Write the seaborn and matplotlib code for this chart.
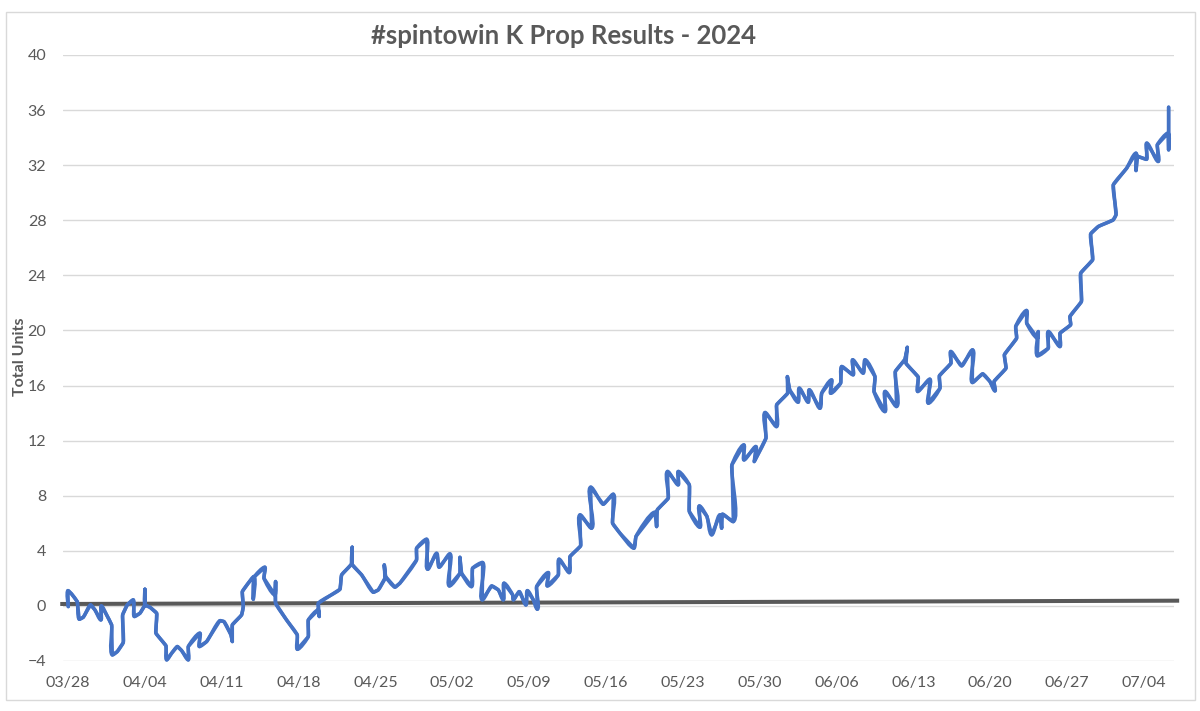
from datetime import datetime, timedelta

import matplotlib
matplotlib.use("Agg")
import matplotlib.dates as mdates
import matplotlib.pyplot as plt
import numpy as np
import pandas as pd
import seaborn as sns
from matplotlib.patches import PathPatch, Rectangle
from matplotlib.path import Path

TITLE = "#spintowin K Prop Results - 2024"
YLABEL = "Total Units"
START = datetime(2024, 3, 28)
Y_TICKS = list(range(-4, 41, 4))

days = [
    0.03, 0, .33, .85, 1.03, 1.40, 2.06, 2.46, 3.0, 3.04, 3.52, 3.98, 4.04, 4.49, 5.04, 4.98, 5.40, 5.95, 6.04, 6.56,
    7.01, 7.01, 7.01, 7.47, 8.08, 8.01, 8.93, 8.99, 9.44, 9.96, 10.35, 10.96, 10.96, 12.02, 11.96, 12.63, 13.84, 14.21,
    14.85, 14.97, 14.97, 15.82, 15.97, 15.88, 16.42, 16.94, 16.88, 16.94, 17.94, 17.85, 18.85, 18.91, 18.91, 19.91,
    20.89, 20.89, 21.89, 21.89, 22.80, 22.89, 22.80,
    24.77, 24.92, 25.84, 25.89, 25.84, 26.75, 27.81, 28.26, 28.87, 28.81, 28.93, 29.78, 30.23, 31.75, 31.75, 32.67,
    32.76, 33.58, 33.8, 34.79, 34.73, 35.7, 35.7, 35.85, 36.76, 36.85, 37.77, 37.73, 38.59, 39.2, 39.65, 39.71, 40.5,
    40.56, 41.1, 41.71, 41.84, 42.38, 42.75, 42.68, 43.75, 43.65, 44.66, 44.72, 45.66, 45.72, 46.69, 46.63, 47.69,
    47.6, 48.75, 49.67, 49.6, 50.27, 51.55, 51.73, 53.46, 53.61, 53.67, 54.67, 54.6, 55.58, 55.58, 56.59, 56.59,
    57.56, 57.5, 58.2, 58.62, 59.38, 59.53, 59.6, 60.6, 60.47, 61.56, 61.56, 62.66, 62.5, 63.57, 63.48, 64.54, 64.54,
    65.54, 65.52, 65.73, 66.5, 66.6, 67.42, 67.51, 68.49, 68.64, 69.55, 69.46, 70.37, 70.46, 71.52, 71.46, 72.43,
    72.59, 73.5, 73.41, 74.41, 74.41, 75.47, 75.35, 76.23, 76.44, 76.32, 77.44, 77.38, 78.5, 78.35, 79.42, 79.36,
    80.42, 80.39, 81.39, 82.39, 82.36, 83.31, 83.97, 84.43, 84.34, 85.43, 85.28, 86.4, 86.31, 87.31, 87.31, 88.31,
    88.37, 88.28, 89.28, 89.28, 90.35, 90.35, 91.32, 91.25, 92.3, 92.23, 93.32, 93.14, 93.84, 95.2, 95.45, 95.2,
    96.42, 97.27, 97.27, 97.39, 98.24, 98.24, 99.3, 99.21, 100.2, 100.24, 100.24,
]
units = [
    -.05, 1.11, .87, .31, -.97, -.82, .07, -.29, -1.02, 0, -.65, -1.38, -3.56, -3.32, -2.66, -.65, .07, .44, -.77, -.53,
    .07, 1.21, .07, -.10, -.53, -1.98, -2.90, -3.92, -3.44, -2.95, -3.24, -3.92, -2.95, -1.98, -2.95, -2.59, -1.07,
    -1.14, -2.11, -2.59, -1.38, -.65, -.05, 1.04, 1.65, 2.13, .48, 2.08, 2.81, 2.01, .80, 1.77, .19, -1.02,
    -2.11, -3.15, -2.23, -1.02, -.29, -.77, .19,
    1.21, 2.25, 3.05, 4.26, 3.05, 2.25, .99, 1.16, 2.01, 2.98, 2.13, 1.36, 1.65, 3.34, 4.19, 4.84,
    2.66, 3.82, 2.81, 3.78, 1.45, 2.37, 3.53, 2.37, 1.40, 2.74, 3.15, .44, 1.45, 1.16, .44, 1.65, .8,
    .44, 1.04, .07, 1.11, .44, -.24, 1.40, 2.42, 1.45, 2.25, 3.39, 2.42, 3.58, 4.36, 6.61, 5.64,
    8.62, 7.38, 8.11, 6.0, 5.28, 4.19, 5.04, 6.8, 5.76, 6.97, 7.82, 9.76, 8.79, 9.76, 8.79, 6.85,
    5.71, 7.26, 6.49, 5.16, 6.61, 5.64, 6.66, 6.12, 10.24, 11.69, 10.6, 11.57, 10.48, 12.18, 14.04, 13.02, 14.6,
    15.44, 16.65, 15.69, 14.79, 15.81, 14.79, 15.69, 14.35, 15.44, 16.41, 15.44, 16.17, 17.38, 16.78, 17.87, 16.9,
    17.87, 16.65, 15.56, 14.11, 15.57, 14.48, 17.02, 17.91, 18.78, 17.62, 16.61, 15.57, 16.46, 14.72, 15.81, 16.7,
    17.62, 18.47, 17.43, 18.59, 16.22, 16.85, 16.29, 15.61, 16.29, 17.26, 18.23, 19.44, 20.29, 21.45, 20.53, 19.44,
    19.92, 18.16, 18.71, 19.92, 18.83, 19.8, 20.41, 21.01, 22.1, 24.16, 25.13, 27.01, 27.55, 28.03, 28.39, 30.57,
    31.78, 32.87, 31.61, 32.63, 32.43, 33.6, 32.27, 33.48, 34.33, 33.11, 36.21,
]
trend_days = [-0.7, 101.2]
trend_units = [0.14, 0.38]

BLUE = "#4472C4"
DARK = "#595959"
GRID = "#D9D9D9"

df = pd.DataFrame({"date": [START + timedelta(days=float(d)) for d in days], "units": units})
trend = pd.DataFrame({
    "date": [START + timedelta(days=float(d)) for d in trend_days],
    "units": trend_units,
})

sns.set_theme(style="white", font="Lato")
fig = plt.figure(figsize=(12, 7.11), dpi=100)
ax = fig.add_axes([63 / 1200, 1 - 661 / 711, (1174 - 63) / 1200, (661 - 55) / 711])

sns.lineplot(data=trend, x="date", y="units", ax=ax, color=DARK, linewidth=2.9,
             estimator=None, sort=False, clip_on=False, zorder=3)
sns.lineplot(data=df, x="date", y="units", ax=ax, color=BLUE, linewidth=2.5,
             estimator=None, sort=False, clip_on=False, zorder=4)
ax.lines[0].set_solid_capstyle("butt")
series_line = ax.lines[1]
series_line.set_solid_joinstyle("round")
series_line.set_solid_capstyle("round")

x0 = mdates.date2num(START)
ax.set_xlim(x0 - 0.45, x0 + 100.73)
ax.set_ylim(-4, 40)
ax.set_yticks(Y_TICKS)
ax.set_xticks([x0 + 7 * i for i in range(15)])
ax.xaxis.set_major_formatter(mdates.DateFormatter("%m/%d"))
ax.grid(axis="y", color=GRID, linewidth=1.0)
ax.grid(axis="x", visible=False)
ax.set_axisbelow(True)
for s in ax.spines.values():
    s.set_visible(False)
ax.tick_params(axis="both", length=0, labelsize=11.5, labelcolor=DARK)
ax.tick_params(axis="x", pad=11)
ax.tick_params(axis="y", pad=12)
ax.set_xlabel("")
ax.set_ylabel("")


def smoothed(line, axes, share=0.14):
    """Excel-style smoothing of an already plotted line: Bezier handles along the neighbour chord."""
    pts = axes.transData.transform(np.column_stack(line.get_data(orig=False)))
    verts = [pts[0]]
    codes = [Path.MOVETO]
    tangents = np.zeros_like(pts)
    for i in range(1, len(pts) - 1):
        a, b = pts[i] - pts[i - 1], pts[i + 1] - pts[i]
        la, lb = np.hypot(*a), np.hypot(*b)
        if la == 0 or lb == 0:
            continue
        t = a / la + b / lb
        n = np.hypot(*t)
        if n > 0.35:
            tangents[i] = t / n
    for i in range(len(pts) - 1):
        seg = np.hypot(*(pts[i + 1] - pts[i]))
        verts += [pts[i] + tangents[i] * seg * share,
                  pts[i + 1] - tangents[i + 1] * seg * share,
                  pts[i + 1]]
        codes += [Path.CURVE4] * 3
    return Path(axes.transData.inverted().transform(np.array(verts)), codes)


ax.add_patch(PathPatch(smoothed(series_line, ax), fill=False, edgecolor=BLUE, linewidth=2.5,
                       joinstyle="round", capstyle="round", clip_on=False, zorder=4))

fig.text(20 / 1200, 1 - 357 / 711, YLABEL, rotation=90, ha="center", va="center",
         fontsize=11.5, fontweight="bold", color=DARK)
fig.text(563.5 / 1200, 1 - 36 / 711, TITLE, ha="center", va="center",
         fontsize=18.5, fontweight="bold", color=DARK)
fig.add_artist(Rectangle((6 / 1200, 1 - 700 / 711), (1195 - 6) / 1200, (700 - 12) / 711,
                         transform=fig.transFigure, fill=False, edgecolor=GRID, linewidth=1.0))

fig.savefig("out.png", dpi=100)
